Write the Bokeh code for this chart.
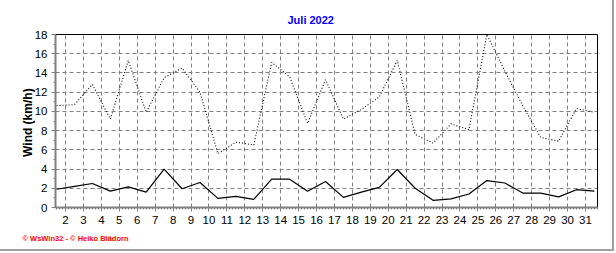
import numpy as np
from bokeh.plotting import figure
from bokeh.embed import file_html
from bokeh.resources import INLINE
from bokeh.models import Title, FixedTicker, SingleIntervalTicker, Range1d

# ---- data ----
days = list(range(1, 32))
wind_max = [10.6, 10.7, 12.8, 9.2, 15.3, 9.9, 13.5, 14.5, 12.0, 5.6,
            6.8, 6.5, 15.1, 13.6, 8.75, 13.3, 9.2, 10.2, 11.5, 15.3,
            7.6, 6.7, 8.7, 8.1, 18.0, 14.2, 10.6, 7.3, 6.9, 10.3, 9.9]
wind_avg = [1.9, 2.2, 2.5, 1.7, 2.15, 1.6, 4.0, 1.95, 2.6, 0.95,
            1.15, 0.85, 2.95, 2.95, 1.7, 2.7, 1.05, 1.6, 2.1, 3.95,
            2.0, 0.75, 0.9, 1.4, 2.8, 2.55, 1.5, 1.5, 1.1, 1.85, 1.7]
tick_days = list(range(2, 32))
title_text = "Juli 2022"
y_label = "Wind  (km/h)"
footer_text = "\u00a9 WsWin32  -  \u00a9 Heiko Bl\u00e4dorn"

# values are daily, plotted at noon of each day (day d spans d..d+1)
x_noon = [d + 0.5 for d in days]

p = figure(width=614, height=251, output_backend="svg", toolbar_location=None,
           x_range=Range1d(1.442, 31.67), y_range=Range1d(0, 18),
           min_border_left=55, min_border_right=17, min_border_top=34,
           min_border_bottom=44)
p.styles = {"border-right": "2px solid #a0a0a0", "border-bottom": "2px solid #a0a0a0"}

p.background_fill_color = "white"
p.border_fill_color = "white"
p.outline_line_color = "black"
p.outline_line_width = 1

# ticks
minor_x = list(np.arange(1.5, 31.7, 1.0 / 6.0))
p.xaxis.ticker = FixedTicker(ticks=tick_days, minor_ticks=minor_x)
p.yaxis.ticker = SingleIntervalTicker(interval=2, num_minor_ticks=2)
p.xgrid.ticker = FixedTicker(ticks=tick_days)

for ax in (p.xaxis[0], p.yaxis[0]):
    ax.axis_line_color = "#808080"
    ax.axis_line_width = 2
    ax.major_tick_line_color = "#808080"
    ax.minor_tick_line_color = "#808080"
    ax.major_tick_in = 0
    ax.major_tick_out = 4
    ax.minor_tick_in = 0
    ax.minor_tick_out = 2
    ax.major_label_text_font = "Liberation Sans"
    ax.major_label_text_font_size = "11.5px"
    ax.major_label_text_color = "#000000"
p.xaxis.major_label_standoff = 4
p.yaxis.major_label_standoff = 4

p.yaxis.axis_label = y_label
p.yaxis.axis_label_text_font = "Liberation Sans"
p.yaxis.axis_label_text_font_size = "12px"
p.yaxis.axis_label_text_font_style = "bold"
p.yaxis.axis_label_text_color = "#000000"
p.yaxis.axis_label_standoff = -3

for g in (p.xgrid[0], p.ygrid[0]):
    g.grid_line_color = "#808080"
    g.grid_line_dash = "4 3"
    g.grid_line_width = 1

# series
p.line(x_noon, wind_max, line_color="black", line_width=1.1, line_dash="1 2")
p.line(x_noon, wind_avg, line_color="black", line_width=1.2)

# title
p.title.text = title_text
p.title.align = "left"
p.title.offset = 232
p.title.text_color = "#0000ff"
p.title.text_font = "Liberation Sans"
p.title.text_font_size = "11px"
p.title.text_font_style = "bold"
p.title.standoff = 17

# footer
foot = Title(text=footer_text, align="left", offset=-33, text_color="#ff0000",
             text_font="Liberation Sans", text_font_size="7.5px",
             text_font_style="bold")
p.add_layout(foot, "below")

open("out.html", "w").write(file_html(p, INLINE))
